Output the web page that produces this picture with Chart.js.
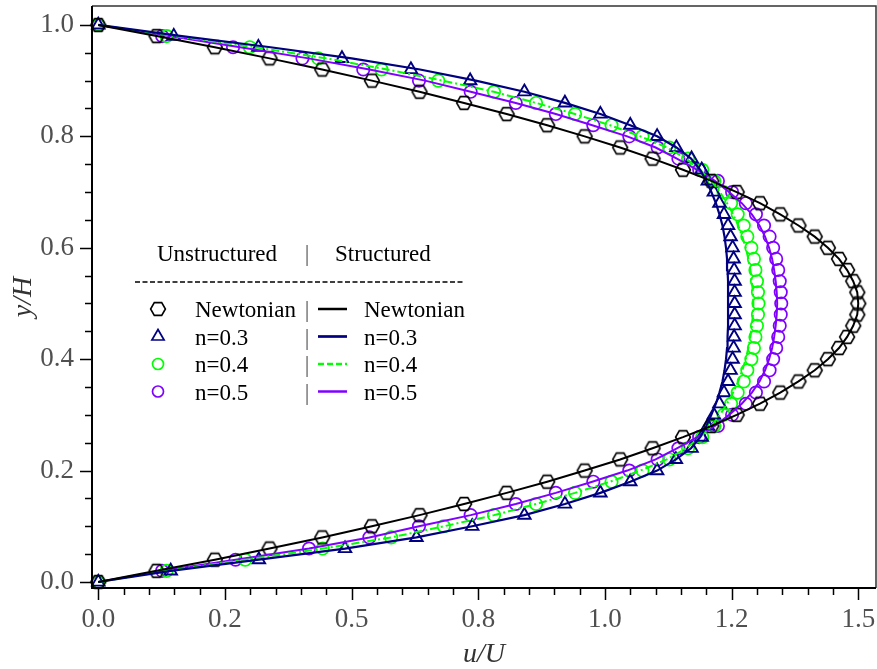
<!DOCTYPE html>
<html>
<head>
<meta charset="utf-8">
<script src="https://cdn.jsdelivr.net/npm/chart.js@4.4.1/dist/chart.umd.min.js"></script>
<style>
  html, body { margin: 0; padding: 0; background: #fff; }
  #wrap { width: 877px; height: 669px; }
</style>
</head>
<body>
<div id="wrap"><canvas id="profileChart" width="877" height="669"></canvas></div>
<script>
// wall-normal positions y/H shared by every profile
var yPositions = [0, 0.02, 0.04, 0.06, 0.08, 0.1, 0.12, 0.14, 0.16, 0.18, 0.2, 0.22, 0.24, 0.26, 0.28, 0.3,
  0.32, 0.34, 0.36, 0.38, 0.4, 0.42, 0.44, 0.46, 0.48, 0.5, 0.52, 0.54, 0.56, 0.58, 0.6, 0.62, 0.64, 0.66,
  0.68, 0.7, 0.72, 0.74, 0.76, 0.78, 0.8, 0.82, 0.84, 0.86, 0.88, 0.9, 0.92, 0.94, 0.96, 0.98, 1.0];

// u/U, Newtonian (same on both meshes)
var newtonian = [0, 0.115, 0.230, 0.338, 0.442, 0.540, 0.634, 0.722, 0.806, 0.886, 0.960, 1.030, 1.094,
  1.154, 1.210, 1.260, 1.306, 1.346, 1.382, 1.414, 1.440, 1.462, 1.478, 1.490, 1.498, 1.500,
  1.498, 1.490, 1.478, 1.462, 1.440, 1.414, 1.382, 1.346, 1.306, 1.260, 1.210, 1.154, 1.094, 1.030,
  0.960, 0.886, 0.806, 0.722, 0.634, 0.540, 0.442, 0.338, 0.230, 0.115, 0];

// u/U, unstructured mesh (markers)
var n03Unstructured = [0, 0.143, 0.317, 0.487, 0.628, 0.738, 0.841, 0.921, 0.991, 1.050, 1.103, 1.140, 1.171,
  1.191, 1.203, 1.215, 1.226, 1.235, 1.243, 1.248, 1.252, 1.254, 1.255, 1.256, 1.256, 1.256,
  1.256, 1.256, 1.255, 1.254, 1.252, 1.248, 1.243, 1.235, 1.226, 1.215, 1.203, 1.191, 1.171, 1.141,
  1.103, 1.050, 0.991, 0.921, 0.841, 0.734, 0.617, 0.481, 0.316, 0.149, 0];
var n04Unstructured = [0, 0.135, 0.290, 0.443, 0.578, 0.682, 0.781, 0.864, 0.941, 1.013, 1.074, 1.127, 1.164,
  1.192, 1.216, 1.234, 1.249, 1.262, 1.274, 1.281, 1.289, 1.294, 1.297, 1.300, 1.302, 1.303,
  1.302, 1.300, 1.297, 1.294, 1.289, 1.281, 1.274, 1.262, 1.249, 1.234, 1.216, 1.192, 1.164, 1.127,
  1.074, 1.013, 0.941, 0.864, 0.781, 0.671, 0.559, 0.434, 0.299, 0.135, 0];
var n05Unstructured = [0, 0.126, 0.271, 0.416, 0.535, 0.633, 0.735, 0.824, 0.903, 0.977, 1.048, 1.104, 1.145,
  1.186, 1.223, 1.251, 1.278, 1.298, 1.314, 1.325, 1.332, 1.338, 1.342, 1.345, 1.347, 1.348,
  1.347, 1.345, 1.342, 1.338, 1.332, 1.325, 1.314, 1.298, 1.278, 1.251, 1.223, 1.186, 1.145, 1.104,
  1.048, 0.977, 0.903, 0.824, 0.735, 0.633, 0.523, 0.403, 0.266, 0.126, 0];

// u/U, structured mesh (lines)
var n03Structured = [0, 0.143, 0.317, 0.487, 0.628, 0.738, 0.841, 0.921, 0.991, 1.050, 1.103, 1.140, 1.170,
  1.188, 1.200, 1.210, 1.219, 1.226, 1.232, 1.236, 1.239, 1.241, 1.242, 1.243, 1.243, 1.243,
  1.243, 1.243, 1.242, 1.241, 1.239, 1.236, 1.232, 1.226, 1.219, 1.210, 1.200, 1.188, 1.170, 1.141,
  1.103, 1.050, 0.991, 0.921, 0.841, 0.745, 0.635, 0.500, 0.340, 0.165, 0];
var n04Structured = [0, 0.135, 0.290, 0.443, 0.578, 0.682, 0.781, 0.864, 0.941, 1.010, 1.070, 1.122, 1.160,
  1.188, 1.210, 1.227, 1.241, 1.253, 1.263, 1.271, 1.278, 1.283, 1.287, 1.290, 1.292, 1.293,
  1.292, 1.290, 1.287, 1.283, 1.278, 1.271, 1.263, 1.253, 1.241, 1.227, 1.210, 1.188, 1.160, 1.122,
  1.070, 1.010, 0.941, 0.864, 0.781, 0.680, 0.570, 0.450, 0.310, 0.150, 0];
var n05Structured = [0, 0.126, 0.271, 0.416, 0.535, 0.633, 0.735, 0.824, 0.903, 0.975, 1.044, 1.100, 1.142,
  1.182, 1.217, 1.245, 1.270, 1.290, 1.305, 1.316, 1.324, 1.330, 1.334, 1.337, 1.339, 1.340,
  1.339, 1.337, 1.334, 1.330, 1.324, 1.316, 1.305, 1.290, 1.270, 1.245, 1.217, 1.182, 1.142, 1.100,
  1.044, 0.975, 0.903, 0.824, 0.735, 0.645, 0.535, 0.415, 0.280, 0.140, 0];

var seriesNames = ['Newtonian', 'n=0.3', 'n=0.4', 'n=0.5'];
var seriesColors = ['#000000', '#000080', '#00ff00', '#8000ff'];

var xTickValues = [0, 0.25, 0.5, 0.75, 1.0, 1.25, 1.5];
var xTickLabels = ['0.0', '0.2', '0.5', '0.8', '1.0', '1.2', '1.5'];
var yTickValues = [0, 0.2, 0.4, 0.6, 0.8, 1.0];
var yTickLabels = ['0.0', '0.2', '0.4', '0.6', '0.8', '1.0'];

var SERIF = '"Liberation Serif", "Times New Roman", serif';

function toPoints(uValues) {
  return uValues.map(function (u, i) {
    return { x: u, y: yPositions[i] };
  });
}

// open hexagon with flat top and bottom
function hexagonMarker(color) {
  var c = document.createElement('canvas');
  c.width = 20; c.height = 20;
  var g = c.getContext('2d');
  g.strokeStyle = color;
  g.lineWidth = 1.6;
  g.beginPath();
  for (var k = 0; k < 6; k++) {
    var a = k * Math.PI / 3;
    var px = 10 + 7.4 * Math.cos(a), py = 10 + 7.4 * Math.sin(a);
    if (k === 0) g.moveTo(px, py); else g.lineTo(px, py);
  }
  g.closePath();
  g.stroke();
  return c;
}

var hexagon = hexagonMarker('#000');

var lineStyles = [
  { width: 2, dash: [] },
  { width: 2.2, dash: [] },
  { width: 2, dash: [8, 3, 2, 3] },
  { width: 2, dash: [] }
];

var lineData = [newtonian, n03Structured, n04Structured, n05Structured];
var markerData = [newtonian, n03Unstructured, n04Unstructured, n05Unstructured];
var markerStyles = [hexagon, 'triangle', 'circle', 'circle'];
var markerRadius = [9, 7.2, 6.2, 6.2];

var datasets = [];
lineData.forEach(function (vals, i) {
  datasets.push({
    label: seriesNames[i] + ' (structured)',
    data: toPoints(vals),
    showLine: true,
    borderColor: seriesColors[i],
    borderWidth: lineStyles[i].width,
    borderDash: lineStyles[i].dash,
    pointRadius: 0,
    tension: 0,
    clip: false
  });
});
markerData.forEach(function (vals, i) {
  datasets.push({
    label: seriesNames[i] + ' (unstructured)',
    data: toPoints(vals),
    showLine: false,
    pointStyle: markerStyles[i],
    pointRadius: markerRadius[i],
    pointBorderColor: seriesColors[i],
    pointBackgroundColor: 'rgba(0,0,0,0)',
    pointBorderWidth: i === 1 ? 1.9 : 1.7,
    clip: false
  });
});

// frame, major and minor tick marks
var axisDecor = {
  id: 'axisDecor',
  afterDraw: function (chart) {
    var ctx = chart.ctx, a = chart.chartArea;
    var xs = chart.scales.x, ys = chart.scales.y;
    ctx.save();
    ctx.setLineDash([]);
    ctx.strokeStyle = '#333';
    ctx.lineWidth = 1.5;
    ctx.beginPath();
    ctx.moveTo(a.left, a.top);
    ctx.lineTo(a.right, a.top);
    ctx.lineTo(a.right, a.bottom);
    ctx.stroke();

    ctx.strokeStyle = '#000';
    ctx.lineWidth = 2;
    ctx.beginPath();
    ctx.moveTo(a.left, a.top);
    ctx.lineTo(a.left, a.bottom);
    ctx.lineTo(a.right, a.bottom);
    ctx.stroke();

    ctx.lineWidth = 1.5;
    ctx.beginPath();
    var v, p, k;
    for (k = 0; k <= 30; k++) {
      v = k * 0.05;
      p = Math.round(xs.getPixelForValue(v)) + 0.5;
      ctx.moveTo(p, a.bottom);
      ctx.lineTo(p, a.bottom + (k % 5 === 0 ? 12 : 7));
    }
    for (k = 0; k <= 20; k++) {
      v = k * 0.05;
      p = Math.round(ys.getPixelForValue(v)) + 0.5;
      ctx.moveTo(a.left, p);
      ctx.lineTo(a.left - (k % 4 === 0 ? 12 : 7), p);
    }
    ctx.stroke();
    ctx.restore();
  }
};

// two-column key: unstructured markers | structured lines
var meshKey = {
  id: 'meshKey',
  afterDraw: function (chart) {
    var ctx = chart.ctx;
    ctx.save();
    ctx.font = '23px ' + SERIF;
    ctx.textBaseline = 'alphabetic';
    ctx.textAlign = 'left';
    ctx.fillStyle = '#000';
    ctx.fillText('Unstructured', 157, 261);
    ctx.fillText('Structured', 335, 261);
    ctx.fillStyle = '#555';
    ctx.textAlign = 'center';
    ctx.fillText('|', 307, 261);

    ctx.strokeStyle = '#000';
    ctx.lineWidth = 1.3;
    ctx.setLineDash([5, 2.5]);
    ctx.beginPath();
    ctx.moveTo(135, 282);
    ctx.lineTo(465, 282);
    ctx.stroke();

    var baselines = [317, 344.5, 372, 399.5];
    seriesNames.forEach(function (name, i) {
      var by = baselines[i], cy = by - 8;
      // marker sample
      ctx.setLineDash([]);
      ctx.strokeStyle = seriesColors[i];
      ctx.lineWidth = 1.7;
      if (i === 0) {
        ctx.drawImage(hexagon, 158 - 10, cy - 10);
      } else if (i === 1) {
        ctx.beginPath();
        ctx.moveTo(158, cy - 7);
        ctx.lineTo(158 + 6.1, cy + 3.5);
        ctx.lineTo(158 - 6.1, cy + 3.5);
        ctx.closePath();
        ctx.stroke();
      } else {
        ctx.beginPath();
        ctx.arc(158, cy, 5.5, 0, Math.PI * 2);
        ctx.stroke();
      }
      // line sample
      ctx.lineWidth = lineStyles[i].width + 0.5;
      ctx.setLineDash(i === 2 ? [6, 3] : []);
      ctx.beginPath();
      ctx.moveTo(318, cy);
      ctx.lineTo(347, cy);
      ctx.stroke();

      ctx.textAlign = 'left';
      ctx.fillStyle = '#000';
      ctx.fillText(name, 195, by);
      ctx.fillText(name, 364, by);
      ctx.textAlign = 'center';
      ctx.fillStyle = '#555';
      ctx.fillText('|', 307, by);
    });
    ctx.restore();
  }
};

var chart = new Chart(document.getElementById('profileChart'), {
  type: 'scatter',
  data: { datasets: datasets },
  options: {
    responsive: false,
    animation: false,
    layout: { autoPadding: false, padding: { top: 6, right: 1, left: 0, bottom: 0 } },
    plugins: {
      legend: { display: false },
      tooltip: { enabled: false }
    },
    scales: {
      x: {
        type: 'linear',
        min: -0.0124,
        max: 1.535,
        grid: { display: false, drawTicks: false },
        border: { display: false },
        afterBuildTicks: function (scale) {
          scale.ticks = xTickValues.map(function (v) { return { value: v }; });
        },
        afterFit: function (scale) {
          scale.height = 81;
          scale.paddingLeft = 0;
          scale.paddingRight = 0;
        },
        ticks: {
          autoSkip: false,
          maxRotation: 0,
          padding: 16,
          color: '#505050',
          font: { family: SERIF, size: 27 },
          callback: function (value, index) { return xTickLabels[index]; }
        },
        title: {
          display: true,
          text: 'u/U',
          color: '#333',
          padding: { top: 1.5, bottom: 0 },
          font: { family: SERIF, size: 28, style: 'italic', lineHeight: 1 }
        }
      },
      y: {
        type: 'linear',
        min: -0.0108,
        max: 1.034,
        grid: { display: false, drawTicks: false },
        border: { display: false },
        afterBuildTicks: function (scale) {
          scale.ticks = yTickValues.map(function (v) { return { value: v }; });
        },
        afterFit: function (scale) {
          scale.width = 92;
          scale.paddingTop = 0;
          scale.paddingBottom = 0;
        },
        ticks: {
          autoSkip: false,
          padding: 18,
          color: '#505050',
          font: { family: SERIF, size: 27 },
          callback: function (value, index) { return yTickLabels[index]; }
        },
        title: {
          display: true,
          text: 'y/H',
          color: '#333',
          padding: { top: 9.5, bottom: 0 },
          font: { family: SERIF, size: 28, style: 'italic', lineHeight: 1 }
        }
      }
    }
  },
  plugins: [axisDecor, meshKey]
});
</script>
</body>
</html>
